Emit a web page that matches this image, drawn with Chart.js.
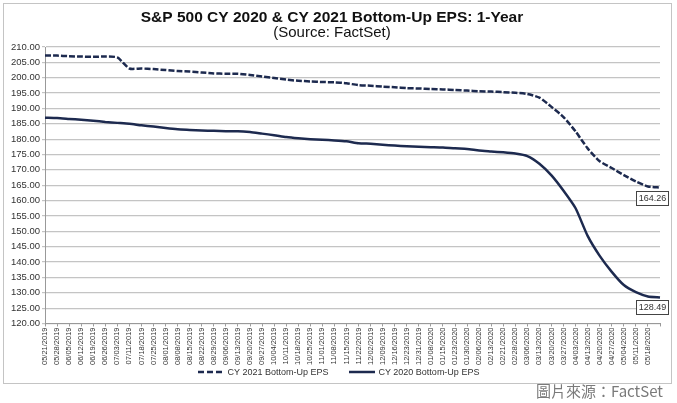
<!DOCTYPE html>
<html>
<head>
<meta charset="utf-8">
<script src="https://cdn.jsdelivr.net/npm/chart.js@4.4.0/dist/chart.umd.min.js"></script>
<style>
  html, body { margin: 0; padding: 0; background: #fff; width: 677px; height: 403px; overflow: hidden; }
  #frame { position: absolute; left: 3px; top: 3px; width: 667px; height: 379px; border: 1px solid #c4c4c4; }
  #frame canvas { display: block; }
  #legend { position: absolute; left: 0; top: 367px; width: 677px; display: flex; justify-content: center; gap: 20px;
            font: 9px "Liberation Sans", Arial, sans-serif; color: #333; }
  #legend span { display: flex; align-items: center; gap: 4px; }
  #credit { position: absolute; right: 14px; top: 380px; font: 15px "Noto Sans CJK TC", sans-serif; color: #7a7a7a; }
</style>
</head>
<body>
<div id="frame"><canvas id="epsChart" width="667" height="379"></canvas></div>
<div id="legend"></div>
<div id="credit">圖片來源：FactSet</div>
<script>
// weekly reading dates (last one is the final data day, its tick label is not shown)
const weekLabels = [
    '05/21/2019', '05/28/2019', '06/05/2019', '06/12/2019', '06/19/2019', '06/26/2019', '07/03/2019',
    '07/11/2019', '07/18/2019', '07/25/2019', '08/01/2019', '08/08/2019', '08/15/2019', '08/22/2019',
    '08/29/2019', '09/06/2019', '09/13/2019', '09/20/2019', '09/27/2019', '10/04/2019', '10/11/2019',
    '10/18/2019', '10/25/2019', '11/01/2019', '11/08/2019', '11/15/2019', '11/22/2019', '12/02/2019',
    '12/09/2019', '12/16/2019', '12/23/2019', '12/31/2019', '01/08/2020', '01/15/2020', '01/23/2020',
    '01/30/2020', '02/06/2020', '02/13/2020', '02/21/2020', '02/28/2020', '03/06/2020', '03/13/2020',
    '03/20/2020', '03/27/2020', '04/03/2020', '04/13/2020', '04/20/2020', '04/27/2020', '05/04/2020',
    '05/11/2020', '05/18/2020'
];
const lastDate = '05/21/2020';

const eps2021 = [
    207.2, 207.2, 207.0, 206.9, 206.8, 206.9, 206.6, 203.0, 203.0, 202.8,
    202.5, 202.2, 202.0, 201.7, 201.4, 201.3, 201.3, 200.9, 200.4, 199.9,
    199.4, 199.0, 198.8, 198.6, 198.5, 198.2, 197.6, 197.4, 197.1, 196.9,
    196.6, 196.5, 196.3, 196.2, 196.0, 195.8, 195.6, 195.5, 195.3, 195.1,
    194.7, 193.5, 190.5, 187.2, 182.5, 177.0, 172.8, 170.6, 168.3, 166.2,
    164.6, 164.26
];
const eps2020 = [
    187.0, 186.9, 186.6, 186.3, 186.0, 185.6, 185.3, 185.0, 184.5, 184.1,
    183.6, 183.2, 183.0, 182.8, 182.7, 182.6, 182.6, 182.3, 181.8, 181.3,
    180.7, 180.3, 180.0, 179.8, 179.6, 179.3, 178.7, 178.5, 178.2, 177.9,
    177.7, 177.5, 177.4, 177.3, 177.0, 176.8, 176.3, 176.0, 175.7, 175.3,
    174.5, 172.0, 168.2, 163.2, 157.5, 148.5, 142.0, 136.8, 132.5, 130.2,
    128.8, 128.49
];

const navy = '#1d2a4f';
const font = '"Liberation Sans", Arial, sans-serif';

const series = [
    { label: 'CY 2021 Bottom-Up EPS', data: eps2021, dash: [6, 2], legendDash: '6 3' },
    { label: 'CY 2020 Bottom-Up EPS', data: eps2020, dash: [], legendDash: 'none' }
];

// boxed value under the end of each line
const endLabels = {
    id: 'endLabels',
    afterDatasetsDraw(chart) {
        const ctx = chart.ctx;
        chart.data.datasets.forEach((ds, i) => {
            const pts = chart.getDatasetMeta(i).data;
            const p = pts[pts.length - 1];
            const w = 32, h = 14;
            const x = Math.round(p.x - 24), y = Math.round(p.y + 3);
            ctx.save();
            ctx.fillStyle = '#fff';
            ctx.fillRect(x, y, w, h);
            ctx.strokeStyle = '#444';
            ctx.lineWidth = 1;
            ctx.strokeRect(x + 0.5, y + 0.5, w, h);
            ctx.fillStyle = '#333';
            ctx.font = '9px ' + font;
            ctx.textAlign = 'center';
            ctx.textBaseline = 'middle';
            ctx.fillText(ds.data[ds.data.length - 1].toFixed(2), x + w / 2 + 0.5, y + h / 2 + 1);
            ctx.restore();
        });
    }
};

new Chart(document.getElementById('epsChart').getContext('2d'), {
    type: 'line',
    data: {
        labels: weekLabels.concat([lastDate]),
        datasets: series.map(s => ({
            label: s.label, data: s.data, borderColor: navy, backgroundColor: navy,
            borderWidth: 2.5, borderDash: s.dash, pointRadius: 0, tension: 0.2
        }))
    },
    options: {
        responsive: false,
        animation: false,
        layout: { padding: { left: 0, right: 11, top: 0, bottom: 17 } },
        scales: {
            x: {
                border: { color: '#999' },
                grid: { drawOnChartArea: false, tickLength: 3, color: '#999' },
                ticks: {
                    autoSkip: false, minRotation: 90, maxRotation: 90, padding: 1,
                    color: '#333', font: { family: font, size: 7.5 },
                    callback: (v, i) => i < weekLabels.length ? weekLabels[i] : ''
                }
            },
            y: {
                min: 120, max: 210,
                afterFit: s => { s.width = 41; },
                border: { color: '#999' },
                grid: { color: '#c4c4c4', lineWidth: 1.2, tickLength: 3 },
                ticks: { stepSize: 5, padding: 2, color: '#333', font: { family: font, size: 9.5 },
                         callback: v => v.toFixed(2) }
            }
        },
        plugins: {
            title: {
                display: true, text: 'S&P 500 CY 2020 & CY 2021 Bottom-Up EPS: 1-Year', color: '#111',
                font: { family: font, size: 15.5, weight: 'bold', lineHeight: 1 }, padding: { top: 6, bottom: 0 }
            },
            subtitle: {
                display: true, text: '(Source: FactSet)', color: '#111',
                font: { family: font, size: 15, lineHeight: 1 }, padding: { top: 0, bottom: 6.5 }
            },
            legend: { display: false },
            tooltip: { enabled: false }
        }
    },
    plugins: [endLabels]
});

document.getElementById('legend').innerHTML = series.map(s =>
    `<span><svg width="26" height="4"><line x1="0" y1="2" x2="26" y2="2" stroke="${navy}" stroke-width="2.5"
        stroke-dasharray="${s.legendDash}"/></svg>${s.label}</span>`).join('');
</script>
</body>
</html>
